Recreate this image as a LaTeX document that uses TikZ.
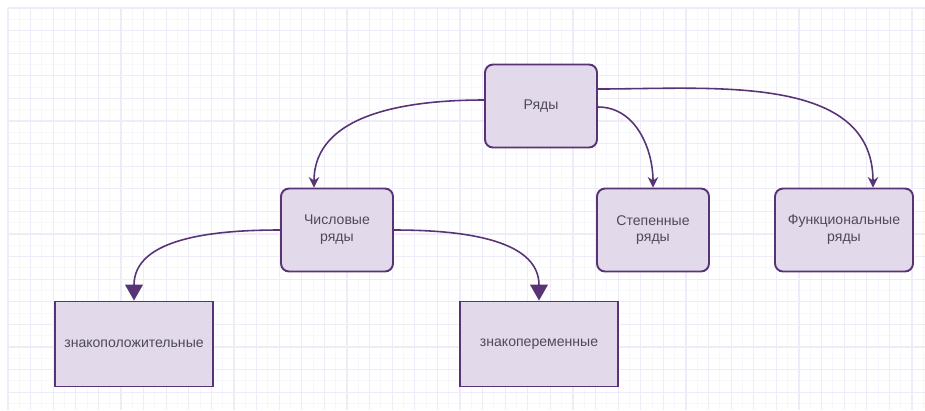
\documentclass[tikz,border=0pt]{standalone}
\usepackage{fontspec}
\setmainfont{Liberation Sans}
\usetikzlibrary{arrows.meta}
\definecolor{edge}{RGB}{88,52,118}
\definecolor{boxfill}{RGB}{226,218,234}
\definecolor{txt}{RGB}{78,74,88}
\definecolor{gridmin}{RGB}{248,247,253}
\definecolor{gridmaj}{RGB}{237,236,248}
\begin{document}
\begin{tikzpicture}[x=0.02cm,y=-0.02cm,font=\fontsize{8}{9.6}\selectfont,
  rbox/.style={draw=edge,line width=1.1pt,fill=boxfill,rounded corners=0.16cm,
    minimum width=2.24cm,minimum height=1.66cm,align=center,text=txt},
  sbox/.style={draw=edge,line width=1.1pt,fill=boxfill,
    minimum width=3.16cm,minimum height=1.7cm,align=center,text=txt},
  thin arr/.style={draw=edge,line width=0.9pt,-{Stealth[length=6pt,width=6pt,inset=2pt]}},
  big arr/.style={draw=edge,line width=0.9pt,-{Stealth[length=9pt,width=10pt,inset=0pt]}}]
\useasboundingbox (0,0) rectangle (925,410);
\fill[white] (0,0) rectangle (925,410);
% background grid
\foreach \i in {0,...,81}
  \draw[gridmin,line width=0.5pt] (8+\i*11.3,8) -- (8+\i*11.3,410);
\foreach \i in {0,...,35}
  \draw[gridmin,line width=0.5pt] (8,8+\i*11.3) -- (925,8+\i*11.3);
\foreach \i in {0,...,40}
  \draw[gridmaj,line width=0.6pt] (8+\i*22.6,8) -- (8+\i*22.6,410);
\foreach \i in {0,...,17}
  \draw[gridmaj,line width=0.6pt] (8,8+\i*22.6) -- (925,8+\i*22.6);
% nodes
\node[rbox] (ryady) at (541,106) {Ряды};
\node[rbox] (chisl) at (337,230) {Числовые\\ряды};
\node[rbox] (stepen) at (653,230) {Степенные\\ряды};
\node[rbox,minimum width=2.76cm] (func) at (844,230) {Функциональные\\ряды};
\node[sbox] (zpol) at (134,344) {знакоположительные};
\node[sbox] (zper) at (539,344) {знакопеременные};
% connectors
\draw[thin arr] ([yshift=0.12cm]ryady.west) to[out=180,in=90] ([xshift=-0.46cm]chisl.north);
\draw[thin arr] ([yshift=-0.02cm]ryady.east) to[out=0,in=90] (stepen.north);
\draw[thin arr] ([yshift=0.34cm]ryady.east) to[out=0,in=90] ([xshift=0.58cm]func.north);
\draw[big arr] (chisl.west) to[out=180,in=90] (zpol.north);
\draw[big arr] (chisl.east) to[out=0,in=90] (zper.north);
\end{tikzpicture}
\end{document}
